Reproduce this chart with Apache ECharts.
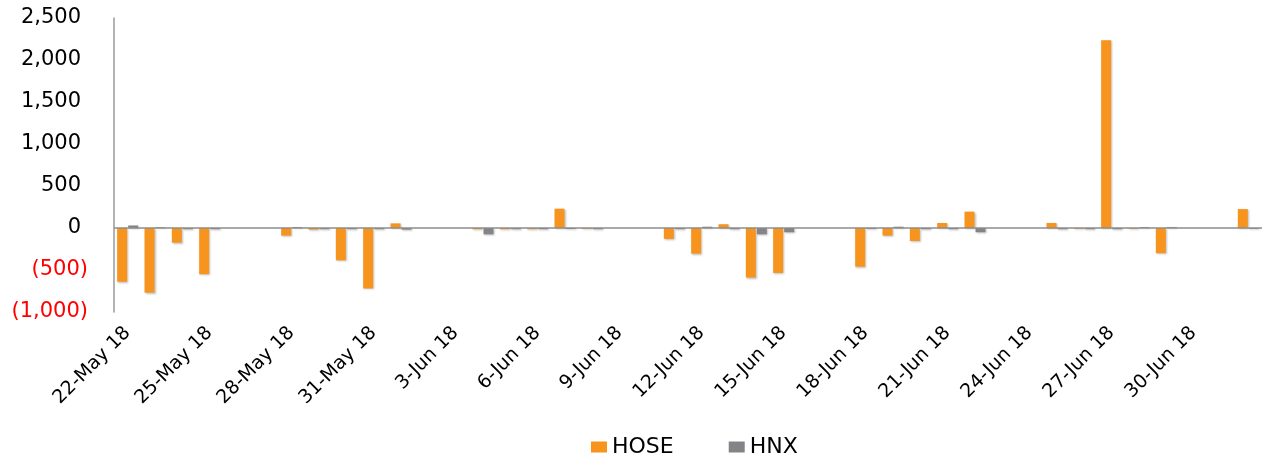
<!DOCTYPE html>
<html>
<head>
<meta charset="utf-8">
<script src="https://cdn.jsdelivr.net/npm/echarts@6/dist/echarts.min.js"></script>
<style>
html,body{margin:0;padding:0;background:#fff;}
#chart{width:1265px;height:455px;}
</style>
</head>
<body>
<div id="chart"></div>
<script>
var categories = [
  '22-May 18','23-May 18','24-May 18','25-May 18','26-May 18','27-May 18','28-May 18','29-May 18','30-May 18','31-May 18',
  '1-Jun 18','2-Jun 18','3-Jun 18','4-Jun 18','5-Jun 18','6-Jun 18','7-Jun 18','8-Jun 18','9-Jun 18','10-Jun 18',
  '11-Jun 18','12-Jun 18','13-Jun 18','14-Jun 18','15-Jun 18','16-Jun 18','17-Jun 18','18-Jun 18','19-Jun 18','20-Jun 18',
  '21-Jun 18','22-Jun 18','23-Jun 18','24-Jun 18','25-Jun 18','26-Jun 18','27-Jun 18','28-Jun 18','29-Jun 18','30-Jun 18',
  '1-Jul 18','2-Jul 18'
];
var hoseValues = [
  -640, -770, -175, -550, null, null, -90, -20, -385, -720,
  55, null, null, -15, -15, -15, 230, -10, null, null,
  -130, -305, 45, -590, -535, null, null, -460, -90, -155,
  60, 195, null, null, 60, -10, 2235, -10, -300, null,
  null, 225
];
var hnxValues = [
  30, 8, -15, -15, null, null, 10, -15, -15, -15,
  -20, null, null, -75, -15, -15, -12, -15, null, null,
  -15, 15, -15, -75, -50, null, null, -12, 15, -15,
  -15, -50, null, null, -15, -15, -15, 10, 10, null,
  null, -10
];
var seriesNames = ['HOSE', 'HNX'];
var yMin = -1000, yMax = 2500, yStep = 500;

function fmtNum(v) {
  return Math.abs(v).toString().replace(/\B(?=(\d{3})+(?!\d))/g, ',');
}

var chart = echarts.init(document.getElementById('chart'));
var font = 'DejaVu Sans, Liberation Sans, Arial, sans-serif';
chart.setOption({
  animation: false,
  grid: { left: 114, right: 3, top: 18, bottom: 143, containLabel: false },
  legend: {
    data: seriesNames,
    top: 431,
    left: 586,
    icon: 'rect',
    itemWidth: 16,
    itemHeight: 11,
    itemGap: 55,
    textStyle: { fontFamily: font, fontSize: 22, color: '#000' }
  },
  xAxis: {
    type: 'category',
    data: categories,
    boundaryGap: true,
    axisLine: { show: false, onZero: false },
    axisTick: { show: false },
    axisLabel: {
      interval: 2,
      rotate: 45,
      margin: 18,
      fontFamily: font,
      fontSize: 19,
      color: '#000'
    }
  },
  yAxis: {
    type: 'value',
    min: yMin,
    max: yMax,
    interval: yStep,
    splitLine: { show: false },
    axisTick: { show: false },
    axisLine: { show: true, lineStyle: { color: '#9a9a9a', width: 1.5 } },
    axisLabel: {
      margin: 26,
      fontFamily: font,
      fontSize: 21,
      formatter: function (v) { return v < 0 ? '{n|(' + fmtNum(v) + ')}' : '{p|' + fmtNum(v) + '}'; },
      rich: {
        p: { color: '#000', fontFamily: font, fontSize: 21, padding: [0, 7, 0, 0] },
        n: { color: '#ff0000', fontFamily: font, fontSize: 21 }
      }
    }
  },
  series: [
    {
      name: seriesNames[0],
      type: 'bar',
      data: hoseValues,
      barWidth: 10,
      barGap: '10%',
      itemStyle: {
        color: '#F7941D',
        shadowColor: 'rgba(0,0,0,0.25)',
        shadowBlur: 2,
        shadowOffsetX: 1,
        shadowOffsetY: 1
      },
      markLine: {
        silent: true,
        symbol: 'none',
        label: { show: false },
        lineStyle: { color: '#8c8c8c', width: 1.5, type: 'solid' },
        data: [{ yAxis: 0 }]
      }
    },
    {
      name: seriesNames[1],
      type: 'bar',
      data: hnxValues,
      barWidth: 10,
      itemStyle: {
        color: '#848488',
        shadowColor: 'rgba(0,0,0,0.25)',
        shadowBlur: 2,
        shadowOffsetX: 1,
        shadowOffsetY: 1
      }
    }
  ]
});
</script>
</body>
</html>
